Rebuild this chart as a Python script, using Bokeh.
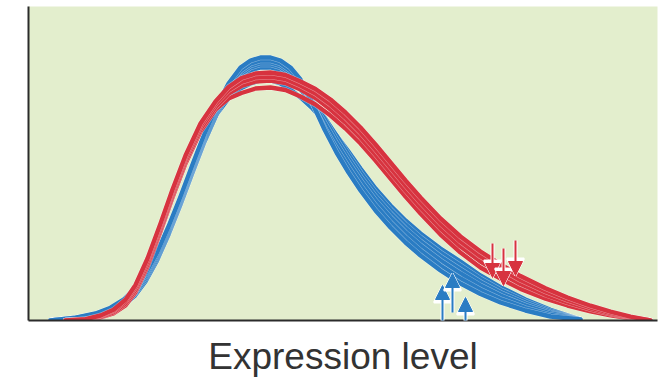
from bokeh.plotting import figure
from bokeh.models import FixedTicker, Arrow, NormalHead, Range1d
from bokeh.embed import file_html
from bokeh.resources import INLINE

# ---- data (x: expression level, y: density) ----
blue_x = [50, 75, 95, 110, 123, 134, 145, 156, 168, 180, 192, 204, 216, 228, 240,
          250, 260, 270, 280, 290, 300, 312, 324, 336, 348, 360, 375, 390, 405,
          420, 440, 460, 480, 500, 525, 550, 580]
blue_1 = [0, 2.9, 7, 12.8, 20.8, 31.6, 47, 67, 94, 124, 156, 187, 214, 237, 253,
          260, 263, 263, 260, 253, 241, 217, 191, 168, 148, 130, 110, 93, 78,
          65, 50, 37, 26.5, 18, 10, 4, 1]
blue_2 = [0, 2.7, 6.5, 11.9, 19.4, 29.8, 45, 65, 92, 122, 154, 185, 212, 234.5, 250,
          257, 260, 260, 257, 250, 238, 217, 193, 172, 153, 135, 115, 98, 83,
          70, 55, 42, 30.8, 21.5, 12.5, 5.5, 1]
blue_3 = [0, 2.5, 6, 11, 18, 28, 43, 63, 90, 120, 152, 183, 210, 232.5, 248,
          255, 258, 258, 255, 248, 236, 218.5, 198, 177, 158, 140, 120, 103, 88,
          75, 60, 47, 35, 25, 15, 7, 1]
blue_4 = [0, 2.3, 5.5, 10.1, 16.6, 26.2, 41, 61, 88, 118, 150, 181, 208, 230.5, 246,
          253, 256, 256, 253, 246, 234, 219.5, 202, 181, 162, 144, 124, 107, 92,
          79, 64, 51, 38.4, 27.8, 17, 8.2, 1]
blue_5 = [0, 2.1, 5, 9.2, 15.2, 24.4, 39, 59, 86, 116, 148, 179, 206, 228, 243,
          250, 253, 253, 250, 243, 231, 218, 203, 185, 166, 148, 128, 111, 96,
          83, 68, 55, 41.8, 30.6, 19, 9.4, 1]
blue_6 = [0, 2.4, 5.8, 10.6, 17.3, 27.1, 42, 62, 89, 119, 151, 182, 206, 222, 232,
          237, 240, 240, 237, 231, 223, 212, 199, 185, 169, 152, 132, 115, 100,
          87, 72, 59, 45, 33.4, 21, 10.6, 1]

red_x = [65, 85, 100, 113, 125, 135, 147, 160, 172, 185, 200, 215, 228, 241, 255,
         270, 285, 300, 315, 330, 345, 360, 375, 390, 405, 420, 440, 460, 480, 500,
         520, 545, 567, 590, 610, 630, 650]
red_1 = [0, 1.4, 5, 10.8, 20.8, 35.6, 62, 97, 131, 165, 197, 219, 233.5, 242.5, 247,
         248, 245.5, 239, 231.5, 221, 208, 193, 176, 158, 140, 123, 102, 84, 69, 56.2,
         44.4, 32.2, 23, 14.8, 8.8, 3.8, 0]
red_2 = [0, 1.2, 4.4, 9.7, 19.1, 33.4, 59.5, 94.5, 128.5, 162.5, 194.5, 216.5, 230.3, 238.5, 243,
         244, 241.5, 235, 227, 216, 203, 188, 171, 153, 135, 118, 97, 79, 64, 51.7,
         40.4, 29, 20.5, 13, 7.7, 3.3, 0]
red_3 = [0, 0.9, 3.6, 8.3, 17, 30.7, 56.5, 91.5, 125.5, 159.5, 191.5, 213.5, 226.8, 234.5, 239,
         240, 237.5, 231, 222.5, 211, 198, 183, 166, 148, 130, 113, 92, 74, 59, 47.2,
         36.4, 25.7, 18, 11.3, 6.6, 2.8, 0]
red_4 = [0, 0.6, 3, 7.2, 15.2, 28.4, 54, 89, 123, 157, 189, 211, 222, 227.5, 232,
         233, 230.5, 224, 216, 205, 192, 177, 160, 142, 124, 107, 86, 68, 53, 41.8,
         31.6, 21.8, 15, 9.2, 5.2, 2.2, 0]

blue_arrow_x = [442, 452, 465]
blue_arrow_from = [-5, 8, -10]
blue_arrow_to = [35, 47, 23]
red_arrow_x = [492, 503, 515]
red_arrow_from = [77, 72, 80]
red_arrow_to = [43, 35, 45]

x_label = "Expression level"

BLUE = "#2a7cc3"
RED = "#d7333f"
BG = "#e3eecd"

p = figure(width=669, height=381, output_backend="svg", toolbar_location=None,
           x_range=Range1d(28, 657), y_range=Range1d(0, 314))
p.min_border_left = 28
p.min_border_right = 12
p.min_border_top = 6
p.min_border_bottom = 61
p.background_fill_color = BG
p.border_fill_color = "white"
p.outline_line_color = None
p.xgrid.visible = False
p.ygrid.visible = False

for ax in (p.xaxis[0], p.yaxis[0]):
    ax.ticker = FixedTicker(ticks=[])
    ax.major_tick_line_color = None
    ax.minor_tick_line_color = None
    ax.major_label_text_font_size = "0px"
    ax.axis_line_color = "#2b2b2b"
    ax.axis_line_width = 2

p.xaxis.axis_label = x_label
p.xaxis.axis_label_text_font = "Liberation Sans"
p.xaxis.axis_label_text_font_size = "37px"
p.xaxis.axis_label_text_font_style = "normal"
p.xaxis.axis_label_text_color = "#333333"
p.xaxis.axis_label_standoff = 15

for ys in (blue_6, blue_5, blue_4, blue_3, blue_2, blue_1):
    p.line(blue_x, ys, line_color="white", line_width=5.4, line_alpha=0.45,
           line_join="round", line_cap="round")
    p.line(blue_x, ys, line_color=BLUE, line_width=4.4,
           line_join="round", line_cap="round")

for ys in (red_4, red_3, red_2, red_1):
    p.line(red_x, ys, line_color="white", line_width=5.4, line_alpha=0.45,
           line_join="round", line_cap="round")
    p.line(red_x, ys, line_color=RED, line_width=4.4,
           line_join="round", line_cap="round")

for xs, y0, y1, col in ((blue_arrow_x, blue_arrow_from, blue_arrow_to, BLUE),
                        (red_arrow_x, red_arrow_from, red_arrow_to, RED)):
    for xa, a, b in zip(xs, y0, y1):
        p.add_layout(Arrow(x_start=xa, y_start=a, x_end=xa, y_end=b,
                           line_color="white", line_width=4,
                           end=NormalHead(size=17, fill_color="white", line_color="white", line_width=2)))
        p.add_layout(Arrow(x_start=xa, y_start=a, x_end=xa, y_end=b,
                           line_color=col, line_width=2,
                           end=NormalHead(size=14, fill_color=col, line_color=col, line_width=1)))

open("out.html", "w").write(file_html(p, INLINE))
